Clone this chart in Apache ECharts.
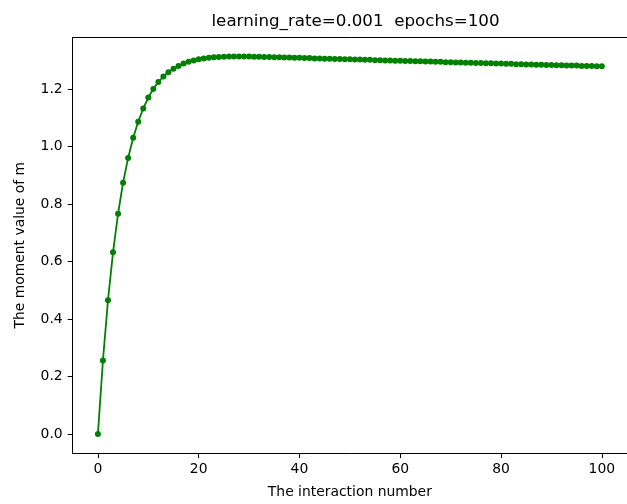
<!DOCTYPE html>
<html>
<head>
<meta charset="utf-8">
<script src="https://cdn.jsdelivr.net/npm/echarts@6/dist/echarts.min.js"></script>
<style>
  html, body { margin: 0; padding: 0; background: #fff; }
  #chart { width: 627px; height: 504px; }
</style>
</head>
<body>
<div id="chart"></div>
<script>
// moment value m per iteration
const mValues = [
  0.000, 0.256, 0.465, 0.632, 0.766, 0.874, 0.960, 1.030, 1.086, 1.132,
  1.170, 1.200, 1.224, 1.243, 1.258, 1.270, 1.280, 1.288, 1.294, 1.299,
  1.303, 1.306, 1.308, 1.310, 1.311, 1.312, 1.313, 1.313, 1.313, 1.313,
  1.313, 1.312, 1.312, 1.311, 1.311, 1.310, 1.310, 1.309, 1.309, 1.308,
  1.308, 1.307, 1.307, 1.306, 1.306, 1.305, 1.305, 1.304, 1.304, 1.303,
  1.303, 1.302, 1.302, 1.301, 1.301, 1.300, 1.300, 1.299, 1.299, 1.298,
  1.298, 1.297, 1.297, 1.296, 1.296, 1.295, 1.295, 1.294, 1.294, 1.293,
  1.293, 1.292, 1.292, 1.291, 1.291, 1.290, 1.290, 1.289, 1.289, 1.288,
  1.288, 1.287, 1.287, 1.286, 1.286, 1.285, 1.285, 1.284, 1.284, 1.283,
  1.283, 1.282, 1.282, 1.281, 1.281, 1.281, 1.280, 1.280, 1.280, 1.279,
  1.279
]
const xTicks = [0, 20, 40, 60, 80, 100]
const yTicks = [0.0, 0.2, 0.4, 0.6, 0.8, 1.0, 1.2]

const points = mValues.map((v, i) => [i, v])

// matplotlib style 5% margins
const yHi = Math.max(...mValues)
const yLo = Math.min(...mValues)
const yPad = (yHi - yLo) * 0.05

const font = 'DejaVu Sans'
const spine = { show: true, onZero: false, lineStyle: { color: '#000', width: 1 } }
const charts = echarts.init(document.getElementById('chart'), null, { renderer: 'canvas' })
charts.setOption({
  animation: false,
  backgroundColor: '#fff',
  title: {
    text: 'learning_rate=0.001  epochs=100',
    left: 350.5,
    textAlign: 'center',
    top: 8,
    textStyle: { fontFamily: font, fontSize: 16.7, fontWeight: 'normal', color: '#000' },
  },
  grid: {
    left: 72.7,
    top: 37.5,
    width: 556.6,
    height: 416.5,
  },
  xAxis: [
    {
      type: 'value',
      min: -5,
      max: 105,
      name: 'The interaction number',
      nameLocation: 'middle',
      nameGap: 32,
      nameTextStyle: { fontFamily: font, fontSize: 13.9, color: '#000' },
      axisLine: spine,
      axisTick: { show: true, length: 5, customValues: xTicks, lineStyle: { color: '#000' } },
      axisLabel: {
        customValues: xTicks,
        margin: 9,
        fontFamily: font,
        fontSize: 13.9,
        color: '#000',
      },
      splitLine: { show: false },
    },
    {
      // top spine only
      type: 'value',
      position: 'top',
      min: -5,
      max: 105,
      axisLine: spine,
      axisTick: { show: false },
      axisLabel: { show: false },
      splitLine: { show: false },
    },
  ],
  yAxis: {
    type: 'value',
    min: yLo - yPad,
    max: yHi + yPad,
    name: 'The moment value of m',
    nameLocation: 'middle',
    nameGap: 45,
    nameTextStyle: { fontFamily: font, fontSize: 13.9, color: '#000' },
    axisLine: spine,
    axisTick: { show: true, length: 5, customValues: yTicks, lineStyle: { color: '#000' } },
    axisLabel: {
      customValues: yTicks,
      margin: 10,
      fontFamily: font,
      fontSize: 13.9,
      color: '#000',
      formatter: (v) => v.toFixed(1),
    },
    splitLine: { show: false },
  },
  series: [
    {
      type: 'line',
      data: points,
      symbol: 'circle',
      symbolSize: 6,
      showAllSymbol: true,
      lineStyle: { color: '#008000', width: 1.8 },
      itemStyle: { color: '#008000', borderWidth: 0 },
    },
  ],
})
</script>
</body>
</html>
